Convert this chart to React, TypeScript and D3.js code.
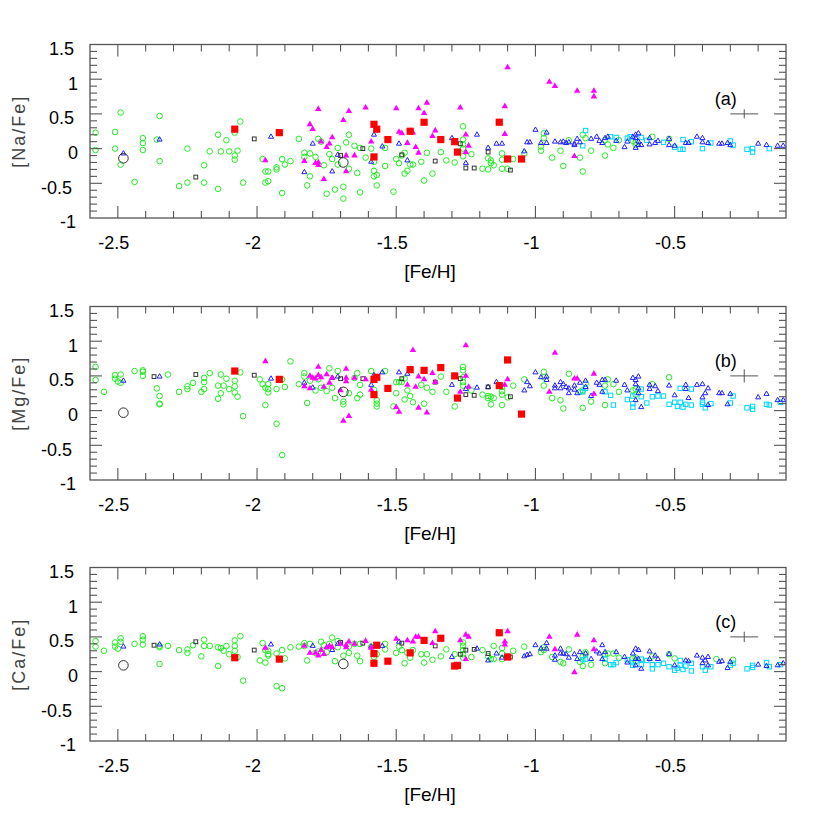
import React from "react";
import * as d3 from "d3";

type P = [number, number];

// ---------- tick labels / axis ----------
const xTickValues = [-2.5, -2, -1.5, -1, -0.5];
const yTickValues = [-1, -0.5, 0, 0.5, 1, 1.5];
const xDomain: [number, number] = [-2.6, -0.1];
const yDomain: [number, number] = [-1, 1.5];
const panelLabels = ["(a)", "(b)", "(c)"];
const yLabels = ["[Na/Fe]", "[Mg/Fe]", "[Ca/Fe]"];
const errX = 0.05;
const errYs = [0.065, 0.095, 0.075];
const errCenter: P = [-0.25, 0.5];

// ---------- panel (a) [Na/Fe] ----------
const naGreen: P[] = [[-2.58,0.23],[-2.58,-0.02],[-2.49,0.52],[-2.51,0.24],[-2.51,0.0],[-2.49,-0.23],[-2.44,-0.48],[-2.41,0.15],[-2.41,0.08],[-2.41,-0.02],[-2.36,0.13],[-2.35,0.47],[-2.35,-0.18],[-2.28,-0.54],[-2.25,0.0],[-2.25,-0.49],[-2.19,-0.24],[-2.19,-0.49],[-2.17,-0.04],[-2.14,0.2],[-2.14,-0.58],[-2.13,-0.04],[-2.11,0.12],[-2.10,-0.04],[-2.08,-0.1],[-2.08,-0.16],[-2.08,0.23],[-2.07,-0.03],[-2.06,0.39],[-2.05,-0.49],[-1.98,-0.15],[-1.97,-0.33],[-1.97,-0.49],[-1.96,-0.33],[-1.96,-0.47],[-1.93,-0.27],[-1.93,-0.30],[-1.91,-0.15],[-1.91,-0.64],[-1.90,-0.23],[-1.88,-0.18],[-1.85,0.14],
[-1.83,-0.06],[-1.83,-0.12],[-1.82,-0.53],[-1.81,-0.40],[-1.81,-0.07],[-1.79,-0.12],[-1.78,0.14],[-1.77,0.10],[-1.76,-0.24],[-1.75,-0.65],[-1.74,-0.08],[-1.73,-0.15],[-1.72,-0.59],[-1.71,0.01],[-1.71,-0.23],[-1.69,-0.55],[-1.69,-0.72],[-1.68,0.09],[-1.67,0.2],[-1.67,-0.29],[-1.65,0.04],[-1.64,-0.35],[-1.63,-0.63],[-1.63,0.01],[-1.61,-0.13],[-1.59,0.0],[-1.58,-0.32],[-1.58,-0.40],[-1.57,-0.38],[-1.57,-0.53],[-1.58,-0.19],[-1.54,0.01],[-1.54,-0.25],[-1.51,-0.62],[-1.50,-0.15],[-1.49,-0.21],[-1.48,-0.1],[-1.47,-0.06],[-1.47,-0.36],[-1.46,-0.32],[-1.45,-0.23],[-1.44,-0.23],[-1.41,-0.19],[-1.40,-0.46],[-1.39,-0.06],[-1.37,-0.36],[-1.34,-0.05],[-1.32,-0.17],[-1.29,-0.20],[-1.26,0.32],[-1.26,0.13],[-1.26,0.06],[-1.26,0.0],[-1.26,-0.11],[-1.23,-0.08],[-1.19,-0.29],[-1.17,-0.14],[-1.17,-0.30],[-1.16,-0.17],[-1.16,-0.21],[-1.15,-0.24],[-1.12,-0.07],[-1.12,-0.16],[-1.12,-0.29],[-1.10,-0.29],[-1.08,-0.15],[-1.04,-0.07],
[-0.97,0.22],[-0.97,0.15],[-0.98,0.03],[-0.98,-0.03],[-0.94,-0.13],[-0.91,-0.03],[-0.90,-0.25],[-0.88,0.12],[-0.84,-0.13],[-0.83,-0.33],[-0.83,0.20],[-0.82,0.15],[-0.80,-0.03],[-0.75,-0.1],[-0.75,0.12],[-0.74,0.06],[-0.72,0.01],[-0.70,0.12],[-0.65,0.11],[-0.64,0.09],[-0.64,0.05],[-0.58,0.17],[-0.52,0.14]];
const naMagenta: P[] = [[-1.97,-0.17],[-1.78,0.57],[-1.67,0.54],[-1.61,0.59],[-1.50,0.58],[-1.42,0.58],[-1.39,0.66],[-1.40,0.51],[-1.27,0.59],[-1.11,0.61],[-1.10,1.17],[-0.95,0.96],[-0.93,0.90],[-1.69,0.41],[-1.81,0.35],[-1.80,0.28],[-1.73,0.16],[-1.74,0.07],[-1.75,0.02],[-1.77,0.10],[-1.83,-0.18],[-1.79,-0.21],[-1.78,-0.24],[-1.78,-0.20],[-1.76,-0.44],[-1.68,-0.33],[-1.65,-0.1],[-1.68,-0.1],[-1.59,0.1],[-1.49,0.24],[-1.48,0.22],[-1.46,0.08],[-1.43,0.02],[-1.42,-0.06],[-1.37,0.18],[-1.36,0.26],[-1.25,0.2],[-1.24,0.04],[-1.25,-0.05],[-1.11,0.21],[-1.44,0.23],[-0.85,0.83],[-0.79,0.83],[-0.79,0.75],[-0.86,-0.11]];
const naRed: P[] = [[-2.08,0.28],[-1.92,0.23],[-1.58,0.35],[-1.57,0.28],[-1.58,-0.12],[-1.53,0.13],[-1.45,0.25],[-1.40,0.38],[-1.34,0.13],[-1.29,0.10],[-1.28,-0.05],[-1.13,0.38],[-1.10,-0.15],[-1.05,-0.15]];
const naBlack: P[] = [[-2.22,-0.41],[-2.01,0.14],[-1.70,-0.1],[-1.62,0.0],[-1.48,-0.09],[-1.36,-0.18],[-1.27,0.07],[-1.25,-0.28],[-1.22,-0.28],[-1.17,-0.05],[-1.09,-0.31]];
const naBig: P[] = [[-2.48,-0.14],[-1.69,-0.20]];
const naBlue: P[] = [[-2.48,-0.07],[-2.35,0.13],[-1.95,0.17],[-1.80,0.07],[-1.83,-0.34],[-1.73,-0.33],[-1.71,-0.09],[-1.58,0.2],[-1.59,-0.19],[-1.55,0.03],[-1.49,0.07],[-1.46,-0.17],[-1.30,0.15],[-1.25,-0.21],[-1.21,0.2],[-1.17,0.01],[-1.14,0.07],[-1.12,0.07],[-1.04,-0.04],[-1.03,0.09],[-1.02,0.09],[-1.00,0.27],
[-0.96,0.23],[-0.96,0.08],[-0.98,0.08],[-0.93,0.1],[-0.91,0.09],[-0.90,0.1],[-0.89,0.08],[-0.88,0.09],[-0.86,0.07],[-0.86,0.05],[-0.85,0.14],[-0.84,0.09],[-0.80,0.14],[-0.78,0.17],[-0.77,0.11],[-0.76,0.08],[-0.75,0.15],[-0.74,0.17],[-0.71,0.11],[-0.68,0.02],[-0.67,0.1],[-0.65,0.17],[-0.64,0.2],[-0.63,0.22],[-0.64,0.15],[-0.63,0.1],[-0.63,0.05],[-0.62,0.05],[-0.64,0.01],[-0.59,0.15],[-0.59,0.06],[-0.57,0.08],[-0.56,0.11],[-0.52,0.05],[-0.52,0.14],[-0.50,0.04],[-0.46,0.08],[-0.45,0.08],[-0.42,0.17],[-0.40,0.15],[-0.40,0.09],[-0.38,0.08],[-0.34,0.07],[-0.33,0.07],[-0.31,0.08],[-0.30,0.05],[-0.20,0.07],[-0.17,0.05],[-0.13,0.04],[-0.11,0.04]];
const naCyan: P[] = [[-0.82,0.26],[-0.83,0.04],[-0.73,0.17],[-0.71,0.16],[-0.67,0.15],[-0.66,0.17],[-0.62,0.16],[-0.60,0.12],[-0.54,0.09],[-0.50,0.02],[-0.48,-0.01],[-0.47,-0.01],[-0.47,0.13],[-0.44,0.1],[-0.40,0.0],[-0.37,0.08],[-0.30,0.11],[-0.29,0.05],[-0.24,-0.01],[-0.22,0.0],[-0.22,-0.05],[-0.16,0.0]];

// ---------- panel (b) [Mg/Fe] ----------
const mgGreen: P[] = [[-2.58,0.63],[-2.58,0.44],[-2.55,0.27],[-2.51,0.51],[-2.51,0.46],[-2.50,0.42],[-2.49,0.40],[-2.49,0.52],[-2.44,0.57],[-2.41,0.58],[-2.41,0.56],[-2.41,0.50],[-2.36,0.32],[-2.35,0.21],[-2.35,0.09],[-2.35,0.10],[-2.32,0.52],[-2.28,0.27],[-2.25,0.35],[-2.25,0.31],[-2.23,0.40],[-2.20,0.27],[-2.19,0.47],[-2.19,0.41],[-2.19,0.31],[-2.17,0.54],[-2.14,0.36],[-2.14,0.17],[-2.13,0.52],[-2.13,0.25],[-2.12,0.36],[-2.11,0.46],[-2.10,0.31],[-2.08,0.43],[-2.08,0.35],[-2.08,0.26],[-2.07,0.2],[-2.06,0.55],[-2.05,-0.08],[-1.99,0.45],[-1.98,0.38],[-1.97,0.33],[-1.97,0.08],[-1.96,0.38],[-1.96,0.31],[-1.96,0.26],[-1.93,0.31],[-1.93,-0.19],[-1.91,-0.64],[-1.91,0.45],[-1.90,0.34],[-1.88,0.71],[-1.85,0.38],
[-1.83,0.54],[-1.83,0.49],[-1.82,0.11],[-1.81,0.43],[-1.79,0.29],[-1.78,0.45],[-1.77,0.33],[-1.75,0.28],[-1.74,0.61],[-1.73,0.33],[-1.72,0.18],[-1.71,0.57],[-1.69,0.13],[-1.69,0.09],[-1.67,0.25],[-1.65,0.47],[-1.64,0.54],[-1.64,0.18],[-1.63,0.37],[-1.63,0.23],[-1.59,0.57],[-1.58,0.30],[-1.57,0.15],[-1.57,0.10],[-1.57,0.06],[-1.54,0.57],[-1.51,0.06],[-1.50,0.41],[-1.50,0.25],[-1.49,0.41],[-1.48,0.41],[-1.47,0.46],[-1.47,0.16],[-1.46,0.29],[-1.45,0.21],[-1.44,0.12],[-1.41,0.37],[-1.40,0.10],[-1.39,0.33],[-1.37,0.27],[-1.34,0.49],[-1.32,0.27],[-1.29,0.06],[-1.26,0.63],[-1.26,0.58],[-1.26,0.48],[-1.26,0.41],[-1.26,0.36],[-1.23,0.29],[-1.19,0.23],[-1.17,0.21],[-1.17,0.18],[-1.16,0.2],[-1.16,0.09],[-1.15,0.18],[-1.12,0.34],[-1.12,0.28],[-1.12,0.23],[-1.12,0.08],[-1.10,0.19],[-1.08,0.36],[-1.04,0.45],
[-0.97,0.56],[-0.97,0.48],[-0.97,0.36],[-0.94,0.18],[-0.91,0.15],[-0.90,0.03],[-0.88,0.53],[-0.84,0.27],[-0.83,0.29],[-0.83,0.04],[-0.82,0.39],[-0.80,0.13],[-0.75,0.36],[-0.75,0.08],[-0.74,0.45],[-0.72,0.38],[-0.70,0.27],[-0.65,0.29],[-0.64,0.31],[-0.64,0.23],[-0.58,0.38],[-0.52,0.48]];
const mgMagenta: P[] = [[-1.97,0.71],[-1.78,0.63],[-1.68,0.60],[-1.44,0.87],[-1.25,0.94],[-0.93,0.83],[-1.81,0.50],[-1.80,0.47],[-1.79,0.46],[-1.78,0.51],[-1.77,0.48],[-1.75,0.52],[-1.74,0.40],[-1.76,0.34],[-1.83,0.35],[-1.81,0.32],[-1.73,0.47],[-1.68,0.47],[-1.68,0.42],[-1.70,0.29],[-1.65,0.47],[-1.61,0.45],[-1.59,0.30],[-1.50,0.05],[-1.49,-0.02],[-1.42,0.04],[-1.39,-0.03],[-1.69,-0.15],[-1.67,-0.08],[-1.46,0.37],[-1.43,0.34],[-1.42,0.49],[-1.40,0.45],[-1.37,0.54],[-1.36,0.41],[-1.27,0.27],[-1.25,0.50],[-1.24,0.34],[-1.11,0.37],[-1.10,0.45],[-0.95,0.27],[-0.86,0.46],[-0.85,0.46],[-0.79,0.53],[-0.79,0.24]];
const mgRed: P[] = [[-2.08,0.57],[-1.92,0.45],[-1.58,0.45],[-1.57,0.48],[-1.58,0.23],[-1.53,0.32],[-1.45,0.59],[-1.40,0.58],[-1.34,0.62],[-1.29,0.50],[-1.28,0.18],[-1.13,0.36],[-1.10,0.73],[-1.05,-0.05]];
const mgBlack: P[] = [[-2.37,0.49],[-2.22,0.52],[-2.01,0.51],[-1.70,0.46],[-1.62,0.46],[-1.48,0.46],[-1.36,0.41],[-1.27,0.46],[-1.25,0.23],[-1.22,0.22],[-1.17,0.34],[-1.09,0.20]];
const mgBig: P[] = [[-2.48,-0.03],[-1.69,0.27]];
const mgBlue: P[] = [[-2.48,0.43],[-2.35,0.49],[-1.95,0.46],[-1.83,0.40],[-1.80,0.33],[-1.73,0.47],[-1.71,0.49],[-1.58,0.51],[-1.59,0.37],[-1.55,0.55],[-1.49,0.55],[-1.46,0.53],[-1.30,0.37],[-1.25,0.31],[-1.21,0.33],[-1.17,0.34],[-1.14,0.41],[-1.04,0.29],[-1.03,0.41],[-1.02,0.35],[-1.00,0.55],
[-0.98,0.48],[-0.96,0.49],[-0.96,0.44],[-0.93,0.36],[-0.93,0.32],[-0.91,0.41],[-0.90,0.38],[-0.91,0.32],[-0.89,0.34],[-0.88,0.32],[-0.88,0.25],[-0.86,0.36],[-0.86,0.30],[-0.85,0.25],[-0.84,0.40],[-0.82,0.43],[-0.82,0.34],[-0.80,0.21],[-0.78,0.40],[-0.77,0.37],[-0.76,0.44],[-0.75,0.44],[-0.76,0.27],[-0.71,0.43],[-0.68,0.37],[-0.67,0.29],[-0.65,0.47],[-0.64,0.44],[-0.63,0.49],[-0.64,0.38],[-0.63,0.32],[-0.63,0.25],[-0.64,0.15],[-0.62,0.05],[-0.59,0.37],[-0.59,0.31],[-0.57,0.35],[-0.56,0.28],[-0.52,0.36],[-0.50,0.22],[-0.46,0.37],[-0.46,0.31],[-0.45,0.18],[-0.42,0.37],[-0.40,0.38],[-0.40,0.19],[-0.39,0.25],[-0.38,0.32],[-0.38,0.08],[-0.34,0.25],[-0.33,0.25],[-0.30,0.24],[-0.31,0.09],[-0.20,0.19],[-0.17,0.24],[-0.13,0.15],[-0.11,0.15]];
const mgCyan: P[] = [[-0.82,0.32],[-0.83,0.27],[-0.75,0.27],[-0.73,0.22],[-0.72,0.08],[-0.67,0.16],[-0.65,0.21],[-0.65,0.10],[-0.65,0.05],[-0.62,0.31],[-0.62,0.20],[-0.60,0.11],[-0.58,0.20],[-0.56,0.21],[-0.54,0.21],[-0.52,0.09],[-0.50,0.12],[-0.49,0.06],[-0.48,0.12],[-0.47,0.05],[-0.46,0.09],[-0.44,0.08],[-0.48,0.32],[-0.44,0.31],[-0.40,0.12],[-0.40,0.09],[-0.39,0.04],[-0.37,0.10],[-0.30,0.11],[-0.29,0.21],[-0.24,0.04],[-0.22,0.06],[-0.22,0.02],[-0.17,0.09],[-0.16,0.08],[-0.12,0.12]];

// ---------- panel (c) [Ca/Fe] ----------
const caGreen: P[] = [[-2.58,0.44],[-2.58,0.36],[-2.55,0.30],[-2.51,0.42],[-2.51,0.36],[-2.50,0.33],[-2.49,0.48],[-2.49,0.43],[-2.44,0.40],[-2.41,0.51],[-2.41,0.46],[-2.41,0.39],[-2.35,0.35],[-2.35,0.11],[-2.35,0.37],[-2.32,0.37],[-2.28,0.31],[-2.25,0.32],[-2.25,0.27],[-2.23,0.38],[-2.20,0.22],[-2.19,0.46],[-2.19,0.37],[-2.17,0.37],[-2.14,0.35],[-2.14,0.08],[-2.13,0.34],[-2.12,0.30],[-2.11,0.37],[-2.10,0.25],[-2.08,0.45],[-2.08,0.37],[-2.08,0.30],[-2.07,0.21],[-2.06,0.51],[-2.05,-0.13],[-1.99,0.16],[-1.98,0.41],[-1.97,0.31],[-1.97,0.13],[-1.96,0.30],[-1.96,0.25],[-1.96,0.23],[-1.93,0.26],[-1.93,-0.21],[-1.91,-0.24],[-1.91,0.31],[-1.90,0.19],[-1.88,0.35],[-1.85,0.36],
[-1.83,0.41],[-1.83,0.37],[-1.82,0.16],[-1.81,0.40],[-1.79,0.27],[-1.77,0.43],[-1.78,0.29],[-1.76,0.38],[-1.75,0.28],[-1.74,0.40],[-1.73,0.49],[-1.72,0.15],[-1.71,0.35],[-1.71,0.44],[-1.69,0.23],[-1.67,0.27],[-1.67,0.36],[-1.65,0.40],[-1.64,0.23],[-1.63,0.15],[-1.63,0.40],[-1.59,0.36],[-1.58,0.25],[-1.58,0.21],[-1.57,0.25],[-1.54,0.40],[-1.54,0.32],[-1.50,0.27],[-1.49,0.36],[-1.48,0.31],[-1.47,0.12],[-1.46,0.27],[-1.45,0.2],[-1.44,0.31],[-1.41,0.25],[-1.39,0.25],[-1.40,0.13],[-1.37,0.17],[-1.34,0.22],[-1.32,0.32],[-1.29,0.25],[-1.26,0.42],[-1.26,0.37],[-1.26,0.31],[-1.26,0.25],[-1.26,0.2],[-1.23,0.21],[-1.19,0.31],[-1.17,0.22],[-1.16,0.18],[-1.15,0.18],[-1.15,0.37],[-1.12,0.26],[-1.12,0.18],[-1.12,0.34],[-1.10,0.22],[-1.08,0.30],[-1.04,0.36],
[-0.98,0.28],[-0.97,0.35],[-0.97,0.31],[-0.94,0.21],[-0.91,0.14],[-0.90,0.12],[-0.88,0.32],[-0.84,0.14],[-0.83,0.08],[-0.83,0.22],[-0.82,0.25],[-0.82,0.28],[-0.80,0.10],[-0.75,0.12],[-0.75,0.25],[-0.74,0.26],[-0.72,0.26],[-0.70,0.2],[-0.65,0.19],[-0.64,0.2],[-0.64,0.15],[-0.58,0.22],[-0.52,0.25],[-0.50,0.19],[-0.35,0.18],[-0.29,0.17]];
const caMagenta: P[] = [[-1.97,0.34],[-1.83,0.37],[-1.81,0.27],[-1.79,0.27],[-1.78,0.23],[-1.77,0.31],[-1.76,0.25],[-1.75,0.35],[-1.74,0.37],[-1.73,0.35],[-1.70,0.40],[-1.68,0.38],[-1.68,0.35],[-1.67,0.43],[-1.65,0.40],[-1.61,0.44],[-1.59,0.34],[-1.50,0.47],[-1.46,0.45],[-1.44,0.43],[-1.43,0.50],[-1.42,0.50],[-1.40,0.45],[-1.37,0.41],[-1.36,0.58],[-1.27,0.45],[-1.25,0.53],[-1.24,0.50],[-1.25,0.18],[-1.11,0.43],[-1.11,0.39],[-1.10,0.58],[-0.95,0.50],[-0.93,0.32],[-0.85,0.53],[-0.79,0.45],[-0.79,0.32],[-0.86,-0.01]];
const caRed: P[] = [[-2.08,0.20],[-1.92,0.18],[-1.57,0.38],[-1.58,0.26],[-1.58,0.12],[-1.53,0.15],[-1.45,0.27],[-1.40,0.45],[-1.34,0.48],[-1.29,0.08],[-1.28,0.09],[-1.13,0.56],[-1.10,0.21]];
const caBlack: P[] = [[-2.37,0.38],[-2.22,0.43],[-2.01,0.31],[-1.70,0.42],[-1.62,0.41],[-1.48,0.41],[-1.36,0.37],[-1.27,0.25],[-1.25,0.31],[-1.22,0.32],[-1.17,0.26],[-1.09,0.21]];
const caBig: P[] = [[-2.48,0.09],[-1.69,0.11]];
const caBlue: P[] = [[-2.48,0.36],[-2.35,0.39],[-1.95,0.39],[-1.80,0.37],[-1.73,0.31],[-1.71,0.40],[-1.59,0.36],[-1.55,0.37],[-1.49,0.43],[-1.30,0.21],[-1.21,0.33],[-1.17,0.16],[-1.14,0.26],[-1.12,0.20],[-1.04,0.22],[-1.03,0.24],[-1.02,0.25],[-1.00,0.38],
[-0.96,0.41],[-0.96,0.33],[-0.98,0.33],[-0.93,0.23],[-0.93,0.17],[-0.91,0.33],[-0.90,0.26],[-0.91,0.26],[-0.89,0.25],[-0.88,0.2],[-0.86,0.25],[-0.85,0.18],[-0.84,0.28],[-0.82,0.26],[-0.80,0.18],[-0.78,0.29],[-0.77,0.26],[-0.76,0.38],[-0.76,0.18],[-0.75,0.28],[-0.71,0.28],[-0.68,0.21],[-0.67,0.13],[-0.65,0.26],[-0.64,0.33],[-0.63,0.31],[-0.64,0.18],[-0.63,0.18],[-0.64,0.09],[-0.62,0.04],[-0.59,0.29],[-0.59,0.18],[-0.57,0.23],[-0.56,0.18],[-0.52,0.25],[-0.50,0.09],[-0.46,0.16],[-0.45,0.15],[-0.42,0.23],[-0.40,0.20],[-0.40,0.12],[-0.39,0.16],[-0.38,0.21],[-0.38,0.09],[-0.34,0.14],[-0.33,0.15],[-0.31,0.05],[-0.30,0.14],[-0.20,0.1],[-0.17,0.08],[-0.13,0.09],[-0.11,0.12]];
const caCyan: P[] = [[-0.83,0.17],[-0.82,0.18],[-0.75,0.18],[-0.73,0.10],[-0.72,0.10],[-0.71,0.13],[-0.67,0.17],[-0.65,0.13],[-0.65,0.09],[-0.62,0.1],[-0.62,0.18],[-0.60,0.16],[-0.58,0.1],[-0.58,0.04],[-0.56,0.1],[-0.54,0.12],[-0.52,0.07],[-0.50,0.02],[-0.49,0.05],[-0.48,0.09],[-0.47,0.03],[-0.46,0.08],[-0.44,0.01],[-0.48,0.16],[-0.44,0.12],[-0.40,0.07],[-0.39,0.02],[-0.37,0.07],[-0.30,0.09],[-0.29,0.12],[-0.24,0.04],[-0.22,0.09],[-0.22,0.06],[-0.17,0.13],[-0.16,0.07],[-0.12,0.10]];

interface PanelData {
  green: P[]; magenta: P[]; red: P[]; black: P[]; big: P[]; blue: P[]; cyan: P[];
}
const panels: PanelData[] = [
  { green: naGreen, magenta: naMagenta, red: naRed, black: naBlack, big: naBig, blue: naBlue, cyan: naCyan },
  { green: mgGreen, magenta: mgMagenta, red: mgRed, black: mgBlack, big: mgBig, blue: mgBlue, cyan: mgCyan },
  { green: caGreen, magenta: caMagenta, red: caRed, black: caBlack, big: caBig, blue: caBlue, cyan: caCyan },
];

// ---------- layout ----------
const W = 830, H = 830;
const LEFT = 90, RIGHT = 786;
const PANEL_TOPS = [44.5, 306.5, 567.5];
const PANEL_H = 173.5;
const FRAME = "#555";
const FONT = "'Liberation Sans', Arial, Helvetica, sans-serif";

const triFill = d3.symbol().type(d3.symbolTriangle).size(18)() as string;
const triOpen = d3.symbol().type(d3.symbolTriangle).size(11)() as string;

function Panel({ idx }: { idx: number }) {
  const d = panels[idx];
  const top = PANEL_TOPS[idx];
  const x = d3.scaleLinear().domain(xDomain).range([LEFT, RIGHT]);
  const y = d3.scaleLinear().domain(yDomain).range([top + PANEL_H, top]);
  const bottom = top + PANEL_H;

  const xMinor = d3.range(0, 26).map((i) => +(xDomain[0] + i * 0.1).toFixed(2));
  const yMinor = d3.range(0, 26).map((i) => +(yDomain[0] + i * 0.1).toFixed(2));
  const isMajor = (v: number) => Math.abs(v * 2 - Math.round(v * 2)) < 1e-6;

  const ticks: JSX.Element[] = [];
  xMinor.forEach((v, i) => {
    const L = isMajor(v) ? 12 : 7;
    const px = x(v);
    if (px < LEFT + 0.5 || px > RIGHT - 0.5) return;
    ticks.push(<line key={"xb" + i} x1={px} x2={px} y1={bottom} y2={bottom - L} />);
    ticks.push(<line key={"xt" + i} x1={px} x2={px} y1={top} y2={top + L} />);
  });
  yMinor.forEach((v, i) => {
    const L = isMajor(v) ? 12 : 7;
    const py = y(v);
    if (py < top + 0.5 || py > bottom - 0.5) return;
    ticks.push(<line key={"yl" + i} x1={LEFT} x2={LEFT + L} y1={py} y2={py} />);
    ticks.push(<line key={"yr" + i} x1={RIGHT} x2={RIGHT - L} y1={py} y2={py} />);
  });

  const errY = errYs[idx];
  const [ex, ey] = errCenter;

  return (
    <g>
      {/* markers */}
      <g fill="none" stroke="#22ee22" strokeWidth={1}>
        {d.green.map((p, i) => <circle key={i} cx={x(p[0])} cy={y(p[1])} r={2.8} />)}
      </g>
      <g fill="none" stroke="#00d4ff" strokeWidth={1}>
        {d.cyan.map((p, i) => <rect key={i} x={x(p[0]) - 2.2} y={y(p[1]) - 2.2} width={4.4} height={4.4} />)}
      </g>
      <g fill="none" stroke="#2020ff" strokeWidth={1}>
        {d.blue.map((p, i) => <path key={i} d={triOpen} transform={`translate(${x(p[0])},${y(p[1])})`} />)}
      </g>
      <g fill="none" stroke="#333" strokeWidth={1}>
        {d.black.map((p, i) => <rect key={i} x={x(p[0]) - 1.9} y={y(p[1]) - 1.9} width={3.8} height={3.8} />)}
      </g>
      <g fill="#ff00ff" stroke="none">
        {d.magenta.map((p, i) => <path key={i} d={triFill} transform={`translate(${x(p[0])},${y(p[1])})`} />)}
      </g>
      <g fill="#ff0000" stroke="none">
        {d.red.map((p, i) => <rect key={i} x={x(p[0]) - 3.6} y={y(p[1]) - 3.6} width={7.2} height={7.2} />)}
      </g>
      <g fill="none" stroke="#333" strokeWidth={1}>
        {d.big.map((p, i) => <circle key={i} cx={x(p[0])} cy={y(p[1])} r={4.8} />)}
      </g>

      {/* error cross */}
      <g stroke="#555" strokeWidth={1}>
        <line x1={x(ex - errX)} x2={x(ex + errX)} y1={y(ey)} y2={y(ey)} />
        <line x1={x(ex)} x2={x(ex)} y1={y(ey - errY)} y2={y(ey + errY)} />
      </g>
      <text x={x(-0.316)} y={y(0.72)} dy="0.35em" textAnchor="middle" fontFamily={FONT} fontSize={18} fill="#000">
        {panelLabels[idx]}
      </text>

      {/* frame + ticks */}
      <g stroke={FRAME} strokeWidth={1.1}>{ticks}</g>
      <rect x={LEFT} y={top} width={RIGHT - LEFT} height={PANEL_H} fill="none" stroke={FRAME} strokeWidth={1.3} />

      {/* tick labels */}
      <g fontFamily={FONT} fontSize={18} fill="#000">
        {xTickValues.map((v) => (
          <text key={v} x={x(v) - 4} y={bottom + 24.5} dy="0.35em" textAnchor="middle">{String(v)}</text>
        ))}
        {yTickValues.map((v) => {
          const s = String(v);
          const endX = 78 - (s.includes(".") ? 4 : 0) - (v < 0 ? 2 : 0);
          return (
            <text key={v} x={endX} y={y(v) + 4} dy="0.35em" textAnchor="end">{s}</text>
          );
        })}
      </g>
      <text x={430} y={bottom + 53} dy="0.35em" textAnchor="middle" fontFamily={FONT} fontSize={19} fill="#000">
        [Fe/H]
      </text>
      <text
        transform={`translate(18.5,${top + PANEL_H / 2}) rotate(-90)`}
        dy="0.35em"
        textAnchor="middle"
        fontFamily={FONT}
        fontSize={18}
        letterSpacing={2}
        fill="#444"
      >
        {yLabels[idx]}
      </text>
    </g>
  );
}

export default function App() {
  return (
    <svg
      width={W}
      height={H}
      style={{ display: "block", background: "#fff", position: "absolute", left: 0, top: 0 }}
    >
      <rect width={W} height={H} fill="#fff" />
      {panels.map((_, i) => <Panel key={i} idx={i} />)}
    </svg>
  );
}
